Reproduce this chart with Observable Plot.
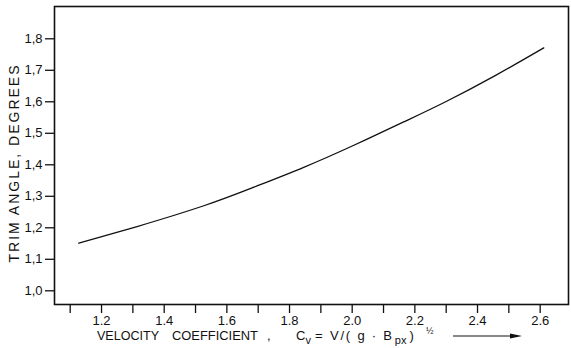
<!DOCTYPE html>
<html>
<head>
<meta charset="utf-8">
<script src="https://cdn.jsdelivr.net/npm/d3@7"></script>
<script src="https://cdn.jsdelivr.net/npm/@observablehq/plot@0.6"></script>
<style>
  html, body { margin: 0; padding: 0; background: #fff; }
  svg { display: block; }
</style>
</head>
<body>
<div id="chart"></div>
<script>
// Data
const velocityCoeff = [1.121, 1.307, 1.52, 1.68, 1.839, 1.999, 2.158, 2.292, 2.45, 2.605];
const trimAngle     = [1.151, 1.204, 1.270, 1.329, 1.392, 1.462, 1.536, 1.600, 1.683, 1.771];
const xTicks = [1.1, 1.2, 1.3, 1.4, 1.5, 1.6, 1.7, 1.8, 1.9, 2.0, 2.1, 2.2, 2.3, 2.4, 2.5, 2.6];
const xLabeled = [1.2, 1.4, 1.6, 1.8, 2.0, 2.2, 2.4, 2.6];
const yTicks = [1.0, 1.1, 1.2, 1.3, 1.4, 1.5, 1.6, 1.7, 1.8];
const yTitle = "TRIM ANGLE, DEGREES";

const data = velocityCoeff.map((x, i) => ({x, y: trimAngle[i]}));
const font = "Liberation Sans, Arial, sans-serif";

const chart = Plot.plot({
  width: 571,
  height: 348,
  marginLeft: 54,
  marginRight: 3,
  marginTop: 6,
  marginBottom: 44,
  style: {fontFamily: font, fontSize: "13px", color: "#111", background: "#fff"},
  x: {domain: [1.0435, 2.684]},
  y: {domain: [0.9565, 1.9025]},
  marks: [
    Plot.axisX({
      ticks: xTicks,
      tickSize: 9,
      tickPadding: 2,
      dx: -2,
      strokeWidth: 1.3,
      tickFormat: d => xLabeled.some(v => Math.abs(v - d) < 1e-9) ? d.toFixed(1) : "",
      label: null
    }),
    Plot.axisY({
      ticks: yTicks,
      tickSize: 9,
      tickPadding: 3,
      strokeWidth: 1.3,
      tickFormat: d => d.toFixed(1).replace(".", ","),
      label: null
    }),
    Plot.frame({stroke: "#111", strokeWidth: 1.6}),
    Plot.line(data, {x: "x", y: "y", curve: "natural", stroke: "#111", strokeWidth: 1.3})
  ]
});

const svg = d3.select(chart);

// Y axis title (rotated)
svg.append("text")
  .attr("transform", "translate(19,163) rotate(-90)")
  .attr("text-anchor", "middle")
  .attr("font-family", font)
  .attr("font-size", 14)
  .attr("letter-spacing", 2)
  .attr("fill", "#111")
  .text(yTitle);

// X axis title pieces
const tstyle = sel => sel
  .attr("font-family", font)
  .attr("text-anchor", "start")
  .attr("fill", "#111");

tstyle(svg.append("text")).attr("x", 97).attr("y", 340).attr("font-size", 13)
  .attr("textLength", 62).attr("lengthAdjust", "spacingAndGlyphs").text("VELOCITY");
tstyle(svg.append("text")).attr("x", 172).attr("y", 340).attr("font-size", 13)
  .attr("textLength", 86).attr("lengthAdjust", "spacingAndGlyphs").text("COEFFICIENT");
tstyle(svg.append("text")).attr("x", 267).attr("y", 340).attr("font-size", 13).text(",");

const t = tstyle(svg.append("text")).attr("x", 296).attr("y", 340).attr("font-size", 13);
t.append("tspan").text("C");
t.append("tspan").attr("dy", 4).attr("font-size", 11).text("v");
t.append("tspan").attr("dy", -4).attr("dx", 4).text("=");
t.append("tspan").attr("x", 330).attr("textLength", 62).attr("lengthAdjust", "spacing").text("V/( g · B");
t.append("tspan").attr("dy", 4).attr("dx", 1).attr("font-size", 11).text("px");
t.append("tspan").attr("dy", -4).attr("dx", 3).text(")");
t.append("tspan").attr("x", 426).attr("dy", -6).attr("font-size", 9).text("½");

// arrow after the title
svg.append("line")
  .attr("x1", 453).attr("x2", 518).attr("y1", 336).attr("y2", 336)
  .attr("stroke", "#111").attr("stroke-width", 1.2);
svg.append("path")
  .attr("d", "M510,333.5 L522,336 L510,338.5 Z")
  .attr("fill", "#111");

document.getElementById("chart").appendChild(chart);
</script>
</body>
</html>
